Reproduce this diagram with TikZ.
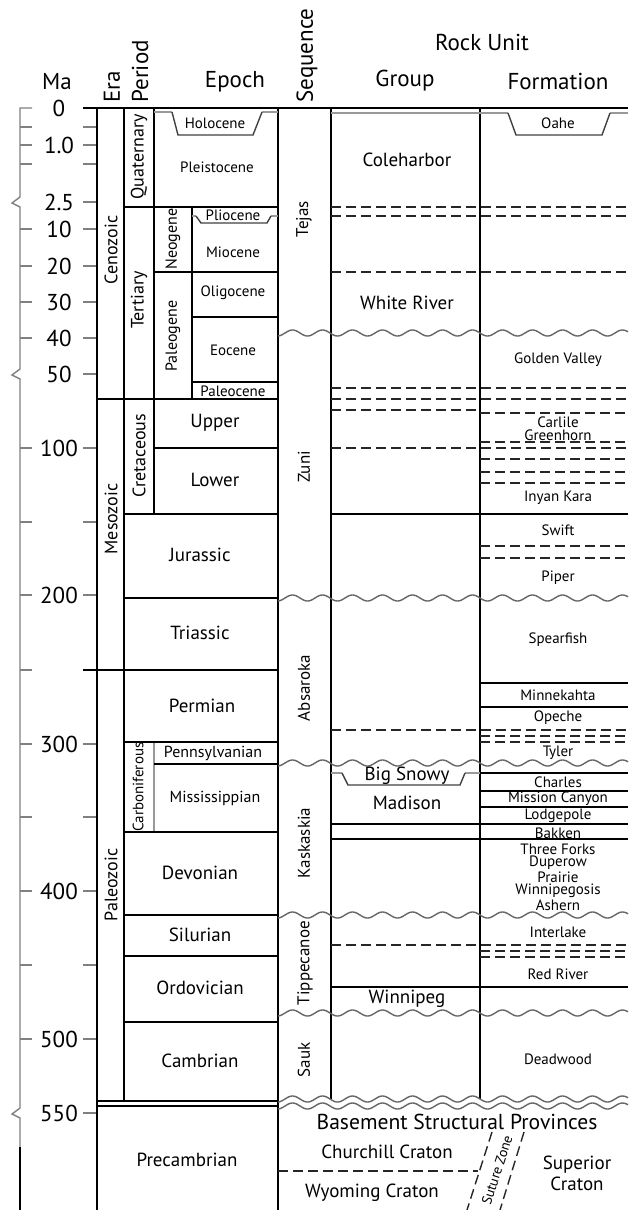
\documentclass[tikz,border=0pt]{standalone}
\usepackage{fontspec}
\setmainfont{PT Sans}
\tikzset{
  ln/.style={line width=0.75pt, black},
  dsh/.style={line width=0.7pt, black!85, dash pattern=on 5pt off 2.5pt},
  wv/.style={line width=0.7pt, black!60},
  gl/.style={line width=0.8pt, black!40},
  trap/.style={line width=0.7pt, black!75},
  ax/.style={line width=0.7pt, black!50},
  hd/.style={font=\fontsize{11.5}{12.5}\selectfont},
  big/.style={font=\fontsize{9.5}{11}\selectfont},
  mid/.style={font=\fontsize{8}{9}\selectfont},
  sm/.style={font=\fontsize{7.5}{9}\selectfont},
  seq/.style={font=\fontsize{8.5}{10}\selectfont, rotate=90},
  rot/.style={font=\fontsize{9}{10}\selectfont, rotate=90},
  crat/.style={font=\fontsize{9.5}{10.5}\selectfont},
}
\newcommand\wavyline[3]{\draw[wv] plot[domain=#1:#2, samples=320, smooth] (\x, {#3 + 3*sin(12*\x)});}
\begin{document}
\begin{tikzpicture}[x=0.5pt,y=-0.5pt, every node/.style={inner sep=0pt, text=black}]
\useasboundingbox (0,0) rectangle (628,1210);

% ---------- axis ----------
\draw[ax] (32,108) -- (20,108) -- (20,197) -- (12,203) -- (20,207) -- (20,369) -- (12,375) -- (20,379) -- (20,1108) -- (12,1114) -- (20,1118) -- (20,1147);
\draw[line width=1pt] (20,1147) -- (20,1210);
\foreach \y in {127,145,164,229,266,302,338,448,522,595,670,744,817,891,965,1039}
  \draw[ax] (20,\y) -- (32,\y);
\foreach \y in {127,145,164,202,229,266,302,338,374,448,522,595,744,817,891,965,1039,1113}
  \draw[ax] (83,\y) -- (96,\y);

% ---------- headers ----------
\node[hd] (ma) at (57,82) {Ma};
\node[hd] (epoch) at (235,82) {Epoch};
\node[hd] (rock) at (482,42) {Rock Unit};
\node[hd] (group) at (405,81) {Group};
\node[hd] (formation) at (558,81) {Formation};
\node[hd, rotate=90, anchor=west] (era) at (112,103) {Era};
\node[hd, rotate=90, anchor=west] (period) at (140,103) {Period};
\node[hd, rotate=90, anchor=west] (sequence) at (307,103) {Sequence};

% tick labels
\foreach \v/\y [count=\i] in {0/108, 1.0/145, 2.5/202, 10/229, 20/266, 30/302, 40/338, 50/374, 100/448, 200/595, 300/744, 400/891, 500/1039, 550/1113}
  \node[hd] (tick\i) at (59,\y) {\v};

% ---------- main frame ----------
\draw[ln] (83,108) -- (628,108);
\draw[ln] (97,108) -- (97,1210);
\draw[ln] (124,108) -- (124,1101);
\draw[ln] (154,108) -- (154,514);
\draw[ln] (192,207) -- (192,399);
\draw[ln] (278,108) -- (278,1210);
\draw[ln] (331,108) -- (331,1099);
\draw[ln] (480,108) -- (480,1099);
\draw[gl, line width=1.1pt] (154,742) -- (154,832);
\foreach \y/\a/\b in {207/124/278, 272/154/278, 317/192/278, 382/192/278, 399/97/278, 448/154/278, 514/124/278, 598/124/278, 670/83/278, 742/124/278, 764/154/278, 832/124/278, 915/124/278, 956/124/278, 1022/124/278, 1101/97/278, 1106/97/278}
  \draw[ln] (\a,\y) -- (\b,\y);

% group / formation solid lines
\foreach \y/\a in {514/331, 683/480, 707/480, 773/480, 791/480, 807/480, 824/331, 839/331, 987/331}
  \draw[ln] (\a,\y) -- (628,\y);

% dashed lines
\foreach \y/\a/\b in {207/331/628, 216/331/628, 272/331/628, 388/331/628, 399/331/628, 410/331/480, 413/480/628, 442/480/628, 448/331/628, 459/480/628, 472/480/628, 483/480/628, 546/480/628, 558/480/628, 730/331/628, 736/480/628, 742/480/628, 945/331/628, 951/480/628, 957/480/628, 1171/278/478}
  \draw[dsh] (\a,\y) -- (\b,\y);

% wavy unconformities
\wavyline{278}{628}{333}
\wavyline{278}{628}{598}
\wavyline{278}{628}{763}
\wavyline{278}{628}{915}
\wavyline{278}{628}{1013}
\wavyline{278}{628}{1099}
\wavyline{278}{628}{1106}

% grey top lines and trapezoids
\draw[gl] (154,112) -- (172,112);
\draw[gl] (262,112) -- (278,112);
\draw[trap] (172,112) -- (178,135) -- (253,135) -- (262,112);
\draw[gl] (192,216) -- (196,216);
\draw[gl] (271,216) -- (278,216);
\draw[trap] (196,216) -- (201,223) -- (267,223) -- (271,216);
\draw[gl] (331,113) -- (480,113);
\draw[gl] (480,113) -- (508,113);
\draw[gl] (610,113) -- (628,113);
\draw[trap] (508,113) -- (516,135) -- (602,135) -- (610,113);
\draw[gl] (331,773) -- (342,773);
\draw[gl] (465,773) -- (480,773);
\draw[trap] (342,773) -- (348,785) -- (460,785) -- (465,773);

% suture zone
\draw[dsh] (492,1132) -- (467,1210);
\draw[dsh] (524,1132) -- (500,1210);

% ---------- era / period ----------
\node[rot] (cenozoic) at (111,250) {Cenozoic};
\node[rot] (mesozoic) at (111,519) {Mesozoic};
\node[rot] (paleozoic) at (111,885) {Paleozoic};
\node[rot] (quaternary) at (139,157) {Quaternary};
\node[rot] (tertiary) at (139,300) {Tertiary};
\node[rot] (cretaceous) at (139,456) {Cretaceous};
\node[sm, rotate=90] (carboniferous) at (138,787) {Carboniferous};
\node[mid, rotate=90] (neogene) at (173,239) {Neogene};
\node[mid, rotate=90] (paleogene) at (173,336) {Paleogene};

% ---------- epochs ----------
\node[sm] (holocene) at (215,123) {Holocene};
\node[sm] (pleistocene) at (217,167) {Pleistocene};
\node[sm] (pliocene) at (233,215) {Pliocene};
\node[sm] (miocene) at (233,252) {Miocene};
\node[sm] (oligocene) at (233,293) {Oligocene};
\node[sm] (eocene) at (233,350) {Eocene};
\node[sm] (paleocene) at (233,391) {Paleocene};
\node[big] (upper) at (215,423) {Upper};
\node[big] (lower) at (215,480) {Lower};
\node[big] (jurassic) at (200,555) {Jurassic};
\node[big] (triassic) at (200,633) {Triassic};
\node[big] (permian) at (202,706) {Permian};
\node[mid] (pennsylvanian) at (213,753) {Pennsylvanian};
\node[mid] (mississippian) at (215,798) {Mississippian};
\node[big] (devonian) at (200,873) {Devonian};
\node[big] (silurian) at (200,935) {Silurian};
\node[big] (ordovician) at (200,988) {Ordovician};
\node[big] (cambrian) at (200,1061) {Cambrian};
\node[big] (precambrian) at (187,1160) {Precambrian};

% ---------- sequences ----------
\node[seq] (tejas) at (304,219) {Tejas};
\node[seq] (zuni) at (304,467) {Zuni};
\node[seq] (absaroka) at (304,688) {Absaroka};
\node[seq] (kaskaskia) at (304,843) {Kaskaskia};
\node[seq] (tippecanoe) at (305,963) {Tippecanoe};
\node[seq] (sauk) at (304,1060) {Sauk};

% ---------- groups ----------
\node[big] (coleharbor) at (407,160) {Coleharbor};
\node[big] (whiteriver) at (407,303) {White River};
\node[big] (bigsnowy) at (407,776) {Big Snowy};
\node[big] (madison) at (407,803) {Madison};
\node[big] (winnipeg) at (407,999) {Winnipeg};

% ---------- formations ----------
\foreach \n/\t/\y in {oahe/Oahe/123, goldenvalley/Golden Valley/360, carlile/Carlile/422, greenhorn/Greenhorn/435, inyankara/Inyan Kara/498, swift/Swift/530, piper/Piper/578, spearfish/Spearfish/640, minnekahta/Minnekahta/695, opeche/Opeche/718, tyler/Tyler/753, charles/Charles/782, missioncanyon/Mission Canyon/799, lodgepole/Lodgepole/816, bakken/Bakken/833, threeforks/Three Forks/849, duperow/Duperow/863, prairie/Prairie/877, winnipegosis/Winnipegosis/891, ashern/Ashern/905, interlake/Interlake/932, redriver/Red River/974, deadwood/Deadwood/1059}
  \node[sm] (\n) at (558,\y) {\t};

% ---------- basement ----------
\node[font=\fontsize{10.8}{12}\selectfont] (basement) at (457,1122) {Basement Structural Provinces};
\node[crat] (churchill) at (387,1152) {Churchill Craton};
\node[crat] (wyoming) at (372,1193) {Wyoming Craton};
\node[crat, align=center] (superior) at (577,1173) {Superior\\Craton};
\node[font=\fontsize{7}{8}\selectfont, rotate=72] (suture) at (497,1170) {Suture Zone};
\end{tikzpicture}
\end{document}
